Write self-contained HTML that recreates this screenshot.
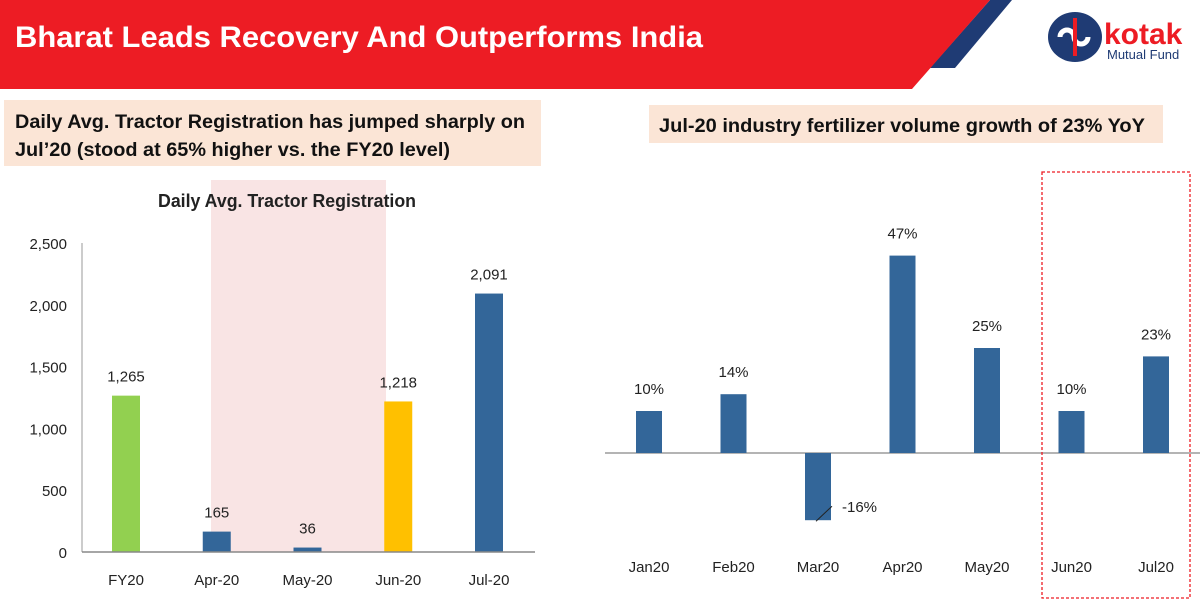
<!DOCTYPE html>
<html><head><meta charset="utf-8">
<style>
body{margin:0;width:1200px;height:611px;overflow:hidden;background:#fff;font-family:"Liberation Sans",sans-serif;}
svg text{font-family:"Liberation Sans",sans-serif;}
</style></head>
<body>
<svg width="1200" height="611" viewBox="0 0 1200 611" xmlns="http://www.w3.org/2000/svg">
  <polygon points="990,0 1012,0 955,68 930,68" fill="#1f3b74"/>
  <polygon points="0,0 990,0 912,89 0,89" fill="#ed1c24"/>
  <text x="15" y="47" fill="#fff" font-size="30" font-weight="bold" textLength="688" lengthAdjust="spacingAndGlyphs">Bharat Leads Recovery And Outperforms India</text>
  <g>
    <ellipse cx="1075" cy="37" rx="27" ry="25" fill="#1f3b74"/>
    <path d="M1060 37 a7 7 0 1 1 14 0 a7 7 0 1 0 14 0" stroke="#fff" stroke-width="5" fill="none"/>
    <rect x="1073" y="18" width="4" height="38" fill="#ed1c24"/>
    <text x="1104" y="44" fill="#ed1c24" font-size="30" font-weight="bold">kotak</text>
    <text x="1107" y="59" fill="#1f3b74" font-size="13">Mutual Fund</text>
  </g>
  <rect x="4" y="100" width="537" height="66" fill="#fbe5d6"/>
  <text x="15" y="128" font-size="19" font-weight="bold" fill="#111" textLength="510" lengthAdjust="spacingAndGlyphs">Daily Avg. Tractor Registration has jumped sharply on</text>
  <text x="15" y="156" font-size="19" font-weight="bold" fill="#111" textLength="435" lengthAdjust="spacingAndGlyphs">Jul’20 (stood at 65% higher vs. the FY20 level)</text>
  <rect x="649" y="105" width="514" height="38" fill="#fbe5d6"/>
  <text x="659" y="132" font-size="19" font-weight="bold" fill="#111" textLength="486" lengthAdjust="spacingAndGlyphs">Jul-20 industry fertilizer volume growth of 23% YoY</text>

  <g id="left"></g>
  <g id="right"></g>
</svg>
<script>
const tractorCats=["FY20","Apr-20","May-20","Jun-20","Jul-20"];
const tractorVals=[1265,165,36,1218,2091];
const tractorLabels=["1,265","165","36","1,218","2,091"];
const tractorTicks=[0,500,1000,1500,2000,2500];
const tractorTickLabels=["0","500","1,000","1,500","2,000","2,500"];
const fertCats=["Jan20","Feb20","Mar20","Apr20","May20","Jun20","Jul20"];
const fertVals=[10,14,-16,47,25,10,23];

const NS="http://www.w3.org/2000/svg";
function mk(parent,tag,attrs,txt){const e=document.createElementNS(NS,tag);for(const k in attrs)e.setAttribute(k,attrs[k]);if(txt!==undefined)e.textContent=txt;parent.appendChild(e);return e;}

// left chart
const L=document.getElementById('left');
const ly=v=>552-v*(552-243)/2500;
const lx=i=>126+i*90.75;
const colors=["#92d050","#336699","#336699","#ffc000","#336699"];
let sh=mk(L,'rect',{x:211,y:180,width:175,height:372,fill:"#f9e4e4"});


let t=mk(L,'text',{x:158,y:207,"font-size":"18","font-weight":"bold",fill:"#222",textLength:"258",lengthAdjust:"spacingAndGlyphs"},"Daily Avg. Tractor Registration");


mk(L,'line',{x1:82,y1:243,x2:82,y2:552,stroke:"#bbb","stroke-width":1.5});
tractorTicks.forEach((v,i)=>{
  const e=mk(L,'text',{x:67,y:ly(v)+6,"text-anchor":"end","font-size":"15",fill:"#222"},tractorTickLabels[i]);
  
  
});
tractorVals.forEach((v,i)=>{
  const b=mk(L,'rect',{x:lx(i)-14,y:ly(v),width:28,height:552-ly(v),fill:colors[i]});
  
  
  const vl=mk(L,'text',{x:lx(i),y:ly(v)-14,"text-anchor":"middle","font-size":"15",fill:"#222"},tractorLabels[i]);
  
  
  const cl=mk(L,'text',{x:lx(i),y:585,"text-anchor":"middle","font-size":"15",fill:"#222"},tractorCats[i]);
  
  
});
mk(L,'line',{x1:82,y1:552,x2:535,y2:552,stroke:"#888","stroke-width":1.5});

// right chart
const R=document.getElementById('right');
const ry=v=>453-v*4.2;
const rx=i=>649+i*84.5;
mk(R,'line',{x1:605,y1:453,x2:1200,y2:453,stroke:"#888","stroke-width":1.2});
fertVals.forEach((v,i)=>{
  const y0=Math.min(ry(v),453),h=Math.abs(ry(v)-453);
  const b=mk(R,'rect',{x:rx(i)-13,y:y0,width:26,height:h,fill:"#336699"});
  
  
  let vl;
  if(v>=0){vl=mk(R,'text',{x:rx(i),y:ry(v)-17,"text-anchor":"middle","font-size":"15",fill:"#222"},v+"%");}
  else{
    mk(R,'line',{x1:rx(i)-2,y1:ry(v)+1,x2:rx(i)+14,y2:ry(v)-14,stroke:"#222","stroke-width":1});
    vl=mk(R,'text',{x:rx(i)+24,y:ry(v)-8,"font-size":"15",fill:"#222"},v+"%");
  }
  
  
  const cl=mk(R,'text',{x:rx(i),y:572,"text-anchor":"middle","font-size":"15",fill:"#222"},fertCats[i]);
  
  
});
const hb=mk(R,'rect',{x:1042,y:172,width:148,height:426,fill:"none",stroke:"#ed1c24","stroke-width":1.3,"stroke-dasharray":"3,2"});


</script>
</body></html>
